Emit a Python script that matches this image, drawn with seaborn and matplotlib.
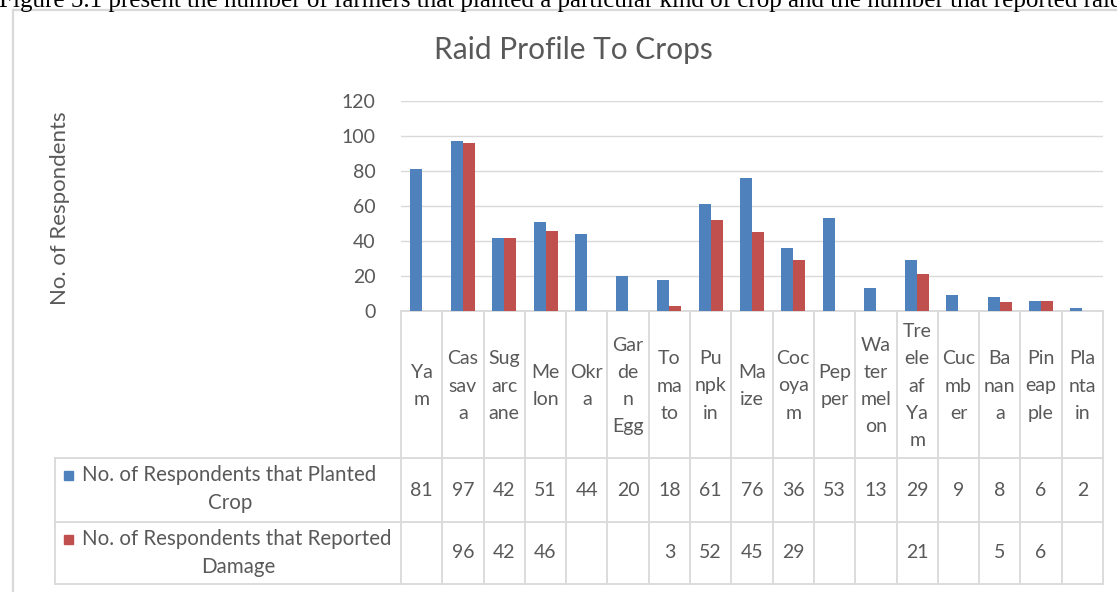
import numpy as np
import pandas as pd
import matplotlib
matplotlib.use("Agg")
from matplotlib import pyplot as plt
from matplotlib.patches import Rectangle
import seaborn as sns

crops = ["Yam", "Cassava", "Sugarcane", "Melon", "Okra", "Garden Egg", "Tomato",
         "Punpkin", "Maize", "Cocoyam", "Pepper", "Watermelon", "Treeleaf Yam",
         "Cucumber", "Banana", "Pineapple", "Plantain"]
crop_labels = ["Ya\nm", "Cas\nsav\na", "Sug\narc\nane", "Me\nlon", "Okr\na",
               "Gar\nde\nn\nEgg", "To\nma\nto", "Pu\nnpk\nin", "Ma\nize",
               "Coc\noya\nm", "Pep\nper", "Wa\nter\nmel\non", "Tre\nele\naf\nYa\nm",
               "Cuc\nmb\ner", "Ba\nnan\na", "Pin\neap\nple", "Pla\nnta\nin"]
planted = [81, 97, 42, 51, 44, 20, 18, 61, 76, 36, 53, 13, 29, 9, 8, 6, 2]
damaged = [np.nan, 96, 42, 46, np.nan, np.nan, 3, 52, 45, 29, np.nan, np.nan, 21,
           np.nan, 5, 6, np.nan]
series = ["No. of Respondents that Planted Crop",
          "No. of Respondents that Reported Damage"]
yticks = [0, 20, 40, 60, 80, 100, 120]

title = "Raid Profile To Crops"
ylabel = "No. of Respondents"
caption = ("Figure 5.1 present the number of farmers that planted a particular kind "
           "of crop and the number that reported raid")

colors = ["#4F81BD", "#C0504D"]
grey = "#D9D9D9"
txt = "#595959"

df = pd.DataFrame({
    "crop": crops * 2,
    "series": [series[0]] * len(crops) + [series[1]] * len(crops),
    "count": planted + damaged,
})

plt.rcParams["font.family"] = ["Lato", "DejaVu Sans"]

W, H = 1117, 592
fig = plt.figure(figsize=(W / 100, H / 100), dpi=100)

def box(x0, y0, x1, y1):
    return [x0 / W, 1 - y1 / H, (x1 - x0) / W, (y1 - y0) / H]

# overlay in pixel coords for frame + data table
ov = fig.add_axes([0, 0, 1, 1], zorder=0)
ov.set_xlim(0, W)
ov.set_ylim(H, 0)
ov.axis("off")

ax = fig.add_axes(box(401, 101, 1103, 311), zorder=1)
ax.patch.set_alpha(0)

sns.barplot(df, x="crop", y="count", hue="series", order=crops, hue_order=series,
            palette=colors, width=0.58, saturation=1, errorbar=None, legend=False,
            ax=ax, zorder=3)

ax.set_xlim(-0.5, len(crops) - 0.5)
ax.set_ylim(0, 120)
ax.set_yticks(yticks)
ax.yaxis.grid(True, color=grey, lw=1.0)
ax.set_axisbelow(True)
ax.set_xlabel("")
ax.set_ylabel("")
ax.tick_params(bottom=False, labelbottom=False, left=False, labelsize=14,
               labelcolor=txt, pad=15)
for s in ["top", "right", "left"]:
    ax.spines[s].set_visible(False)
ax.spines["bottom"].set_color(grey)
ax.spines["bottom"].set_linewidth(1.3)

# outer chart frame and caption (caption is cut by the page edge, as in the source)
ov.plot([13, 13], [10, H], color=grey, lw=1.6)
ov.plot([13, W], [10, 10], color=grey, lw=1.6)
ov.text(-1, 6.5, caption, family=["Liberation Serif", "DejaVu Serif"], fontsize=18,
        va="baseline", ha="left", color="black")

fig.text(573 / W, 1 - 50 / H, title, ha="center", va="center", fontsize=21.5, color=txt)
fig.text(60 / W, 1 - 208 / H, ylabel, ha="center", va="center", rotation=90,
         fontsize=16, color=txt)

# data table
x0, x1 = 401, 1103
cw = (x1 - x0) / len(crops)
lc = dict(color=grey, lw=1.3)
for i in range(len(crops) + 1):
    ov.plot([x0 + i * cw] * 2, [311, 584], **lc)
ov.plot([55, 55], [458, 584], **lc)
for y in [458, 522, 584]:
    ov.plot([55, x1], [y, y], **lc)

for i, lab in enumerate(crop_labels):
    ov.text(x0 + (i + 0.5) * cw, 386, lab, ha="center", va="center",
            multialignment="center", fontsize=14, color=txt, linespacing=1.72)

for r, vals in enumerate([planted, damaged]):
    yc = [490, 553][r]
    for i, v in enumerate(vals):
        if not np.isnan(v):
            ov.text(x0 + (i + 0.5) * cw, yc, f"{int(v)}", ha="center", va="center",
                    fontsize=14, color=txt)
    first, last = series[r].rsplit(" ", 1)
    ly = [475, 539][r]
    ov.add_patch(Rectangle((64, ly - 4.5), 9, 9, color=colors[r]))
    ov.text(82, ly, first, ha="left", va="center", fontsize=14.8, color=txt)
    ov.text([230, 238][r], ly + 28, last, ha="center", va="center", fontsize=14.8,
            color=txt)

plt.savefig("out.png", dpi=100)
